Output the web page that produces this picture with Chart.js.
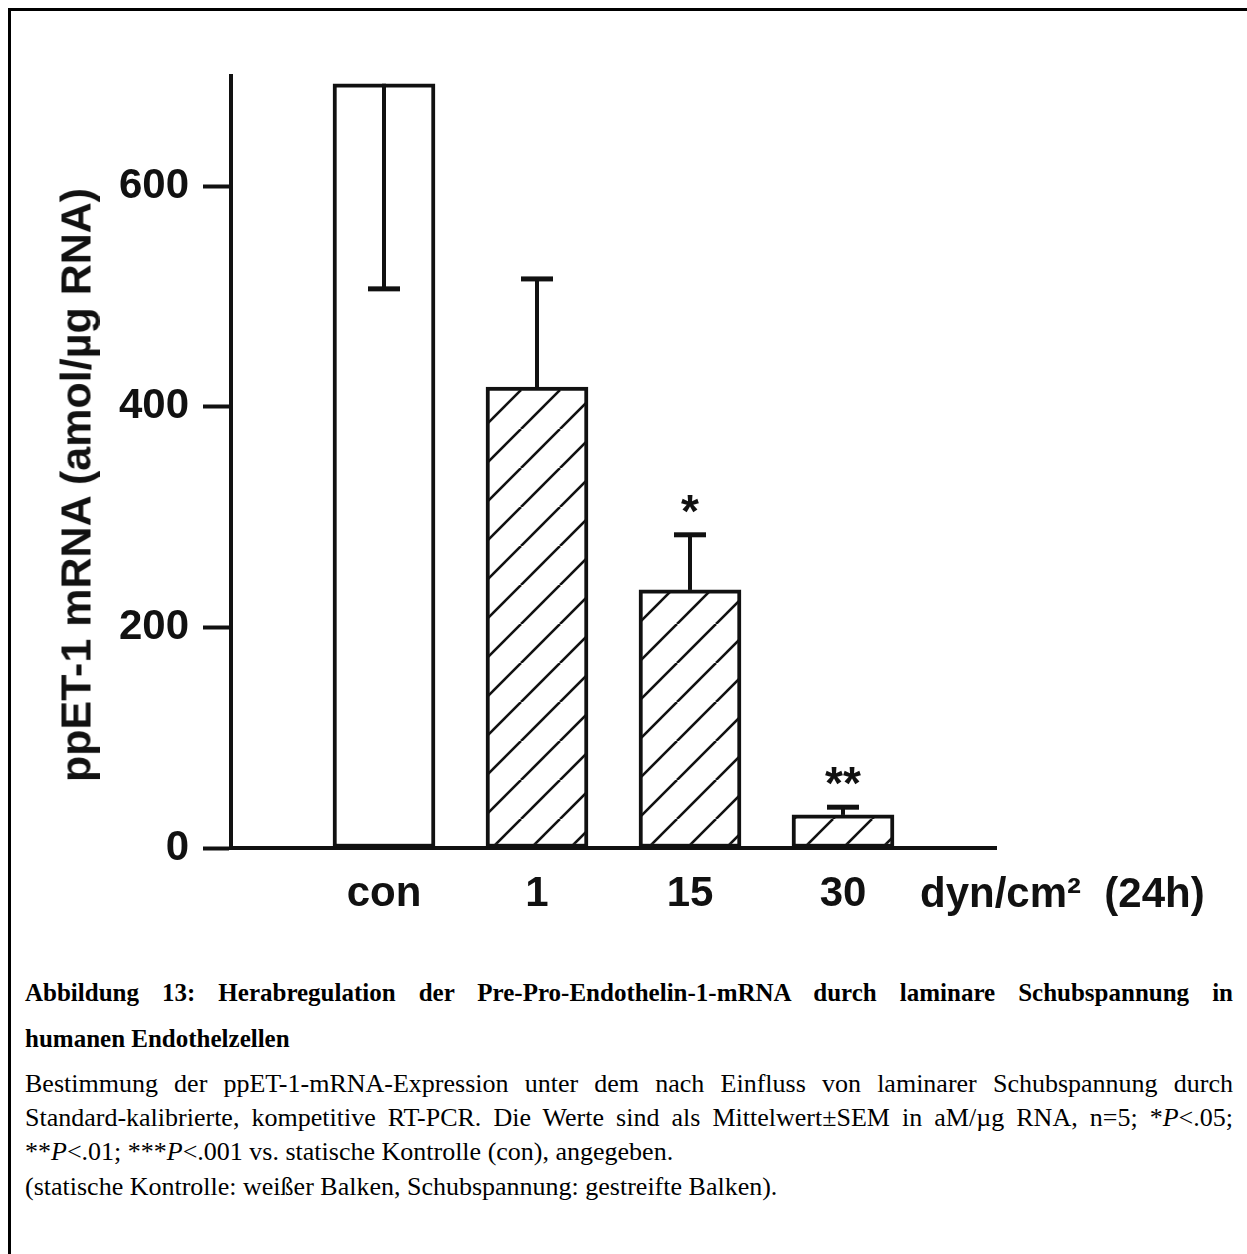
<!DOCTYPE html>
<html>
<head>
<meta charset="utf-8">
<script src="https://cdn.jsdelivr.net/npm/chart.js@4.4.1/dist/chart.umd.min.js"></script>
<style>
  html, body { margin: 0; padding: 0; background: #fff; }
  body { width: 1247px; height: 1254px; position: relative; overflow: hidden; }
  #frame { position: absolute; left: 8px; top: 8px; width: 1239px; height: 1246px;
           border-top: 3px solid #000; border-left: 3px solid #000; box-sizing: border-box; }
  #chart { position: absolute; left: 0; top: 0; }
  #unit { position: absolute; left: 920px; top: 872px; font: bold 42px "Liberation Sans", Arial, sans-serif;
          line-height: 42px; color: #111; white-space: pre; }
  #ytitle { position: absolute; left: 76px; top: 485px; transform: translate(-50%, -50%) rotate(-90deg);
            font: bold 43px "Liberation Sans", Arial, sans-serif; line-height: 43px; color: #111; white-space: nowrap; }
  .line { position: absolute; left: 25px; width: 1208px; font-family: "Liberation Serif", "Times New Roman", serif;
          font-size: 26px; line-height: 34px; color: #000; white-space: nowrap; }
  .b { font-weight: bold; font-size: 25px; }
  .just { text-align: justify; text-align-last: justify; white-space: normal; }
</style>
</head>
<body>
<div id="frame"></div>
<canvas id="chart" width="1247" height="930"></canvas>
<div id="ytitle">ppET-1 mRNA (amol/µg RNA)</div>
<div id="unit">dyn/cm²  (24h)</div>

<div class="line b just" style="top:976px">Abbildung 13: Herabregulation der Pre-Pro-Endothelin-1-mRNA durch laminare Schubspannung in</div>
<div class="line b" style="top:1022px">humanen Endothelzellen</div>
<div class="line just" style="top:1067px">Bestimmung der ppET-1-mRNA-Expression unter dem nach Einfluss von laminarer Schubspannung durch</div>
<div class="line just" style="top:1101px">Standard-kalibrierte, kompetitive RT-PCR. Die Werte sind als Mittelwert±SEM in aM/µg RNA, n=5; *<i>P</i>&lt;.05;</div>
<div class="line" style="top:1135px">**<i>P</i>&lt;.01; ***<i>P</i>&lt;.001 vs. statische Kontrolle (con), angegeben.</div>
<div class="line" style="top:1170px">(statische Kontrolle: weißer Balken, Schubspannung: gestreifte Balken).</div>

<script>
// Chart data
const categories = ['con', '1', '15', '30'];
const means = [693, 418, 234, 30];
const sem = [186, 98, 50, 7];
const errDirection = [-1, 1, 1, 1];   // con whisker drawn downward
const marks = ['', '', '*', '**'];
const hatched = [false, true, true, true];
const yTicks = [0, 200, 400, 600];

const AXIS_FONT = '"Liberation Sans", Arial, sans-serif';

// Diagonal hatch pattern
function makeHatch() {
    const s = 39;
    const c = document.createElement('canvas');
    c.width = s; c.height = s;
    const g = c.getContext('2d');
    g.fillStyle = '#fff';
    g.fillRect(0, 0, s, s);
    g.strokeStyle = '#111';
    g.lineWidth = 2.6;
    [-s, 0, s].forEach(k => {
        g.beginPath();
        g.moveTo(k, s);
        g.lineTo(k + s, 0);
        g.stroke();
    });
    const p = document.getElementById('chart').getContext('2d').createPattern(c, 'repeat');
    p.setTransform(new DOMMatrix().translate(14, 0));
    return p;
}

// Error bars and significance marks
const errorBars = {
    id: 'errorBars',
    afterDatasetsDraw(chart) {
        const ctx = chart.ctx;
        const meta = chart.getDatasetMeta(0);
        const y = chart.scales.y;
        ctx.save();
        ctx.strokeStyle = '#111';
        ctx.fillStyle = '#111';
        means.forEach((m, i) => {
            const bar = meta.data[i + 1];
            const x = bar.x;
            const y0 = y.getPixelForValue(m);
            const y1 = y.getPixelForValue(m + errDirection[i] * sem[i]);
            ctx.lineWidth = 4;
            ctx.beginPath();
            ctx.moveTo(x, y0);
            ctx.lineTo(x, y1);
            ctx.stroke();
            ctx.lineWidth = 5;
            ctx.beginPath();
            ctx.moveTo(x - 16, y1);
            ctx.lineTo(x + 16, y1);
            ctx.stroke();
            if (marks[i]) {
                ctx.font = 'bold 46px ' + AXIS_FONT;
                ctx.textAlign = 'center';
                ctx.textBaseline = 'alphabetic';
                ctx.fillText(marks[i], x, y1 - 8);
            }
        });
        ctx.restore();
    }
};

const hatch = makeHatch();
const labels = ['', ...categories, ''];
const values = [null, ...means, null];
const fills = [null, ...hatched.map(h => h ? hatch : '#fff'), null];

new Chart(document.getElementById('chart'), {
    type: 'bar',
    data: {
        labels: labels,
        datasets: [{
            data: values,
            backgroundColor: fills,
            borderColor: '#111',
            borderWidth: 4,
            borderSkipped: false,
            barThickness: 102
        }]
    },
    options: {
        responsive: false,
        animation: false,
        devicePixelRatio: 1,
        layout: { padding: { left: 0, right: 251, top: 76, bottom: 0 } },
        plugins: { legend: { display: false }, tooltip: { enabled: false } },
        scales: {
            x: {
                offset: false,
                grid: { display: false, drawTicks: false },
                border: { display: true, color: '#111', width: 4 },
                ticks: {
                    color: '#111',
                    padding: 21,
                    autoSkip: false,
                    maxRotation: 0,
                    font: { family: AXIS_FONT, size: 42, weight: 'bold' }
                },
                afterFit: s => { s.height = 82; }
            },
            y: {
                min: 0,
                max: 700,
                afterBuildTicks: s => { s.ticks = yTicks.map(v => ({ value: v })); },
                grid: {
                    display: true,
                    drawOnChartArea: false,
                    drawTicks: true,
                    tickLength: 28,
                    tickWidth: 4,
                    tickColor: '#111'
                },
                border: { display: true, color: '#111', width: 4 },
                ticks: {
                    color: '#111',
                    padding: 14,
                    font: { family: AXIS_FONT, size: 42, weight: 'bold' }
                },
                afterFit: s => { s.width = 231; }
            }
        }
    },
    plugins: [errorBars]
});
</script>
</body>
</html>
